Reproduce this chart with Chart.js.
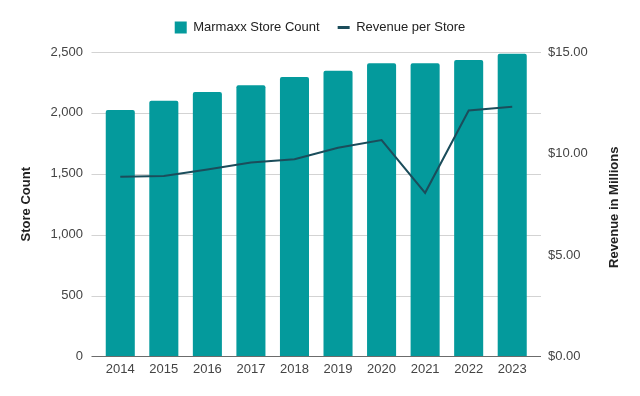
<!DOCTYPE html>
<html><head><meta charset="utf-8">
<script src="https://cdn.jsdelivr.net/npm/chart.js@4/dist/chart.umd.min.js"></script>
<style>html,body{margin:0;padding:0;background:#fff}#wrap{width:640px;height:396px}</style>
</head><body><div id="wrap"><canvas id="c" width="640" height="396"></canvas></div>
<script>
const years = ['2014','2015','2016','2017','2018','2019','2020','2021','2022','2023'];
const storeCount = [2023, 2100, 2171, 2226, 2294, 2347, 2407, 2407, 2434, 2486];
const revenuePerStore = [8.85, 8.89, 9.21, 9.56, 9.72, 10.28, 10.66, 8.06, 12.12, 12.30];
const seriesNames = ['Marmaxx Store Count', 'Revenue per Store'];
const leftTitle = 'Store Count';
const rightTitle = 'Revenue in Millions';

const BAR_COLOR = '#049a9c';
const LINE_COLOR = '#1b4d5b';
const FONT = '"Liberation Sans", Arial, sans-serif';
const LEGEND_EXTRA = 8;

const gridPlugin = {
  id: 'gridExt',
  beforeDatasetsDraw(chart) {
    const {ctx, chartArea: a, scales: {y}} = chart;
    ctx.save();
    ctx.strokeStyle = '#d3d3d3';
    ctx.lineWidth = 1;
    y.ticks.forEach(t => {
      if (t.value === 0) return;
      const py = Math.round(y.getPixelForValue(t.value)) + 0.5;
      ctx.beginPath(); ctx.moveTo(a.left - 7, py); ctx.lineTo(a.right + 7, py); ctx.stroke();
    });
    ctx.restore();
  },
  afterDatasetsDraw(chart) {
    const {ctx, chartArea: a, scales: {y}} = chart;
    const py = Math.round(y.getPixelForValue(0)) + 0.5;
    ctx.save();
    ctx.strokeStyle = '#6b6b6b';
    ctx.lineWidth = 1;
    ctx.beginPath(); ctx.moveTo(a.left - 7, py); ctx.lineTo(a.right + 7, py); ctx.stroke();
    ctx.restore();
  },
  afterDraw(chart) {
    const {ctx, chartArea: a, scales: {y1}} = chart;
    ctx.save();
    ctx.translate(y1.right - 26, (a.top + a.bottom) / 2 + 3);
    ctx.rotate(-Math.PI / 2);
    ctx.fillStyle = '#222';
    ctx.font = 'bold 13px ' + FONT;
    ctx.textAlign = 'center';
    ctx.textBaseline = 'middle';
    ctx.fillText(rightTitle, 0, 0);
    ctx.restore();
  }
};

const legendFix = {
  id: 'legendFix',
  beforeLayout(chart) {
    const lg = chart.legend;
    if (lg && !lg._patched) {
      const f = lg.fit;
      lg.fit = function () { f.call(this); this.height += LEGEND_EXTRA; };
      lg._patched = true;
    }
  }
};

new Chart(document.getElementById('c'), {
  data: {
    labels: years,
    datasets: [
      {
        type: 'bar', label: seriesNames[0], data: storeCount, yAxisID: 'y',
        backgroundColor: BAR_COLOR, borderRadius: {topLeft: 2, topRight: 2},
        borderSkipped: false, categoryPercentage: 1, barPercentage: 0.667, order: 1
      },
      {
        type: 'line', label: seriesNames[1], data: revenuePerStore, yAxisID: 'y1',
        borderColor: LINE_COLOR, backgroundColor: LINE_COLOR, borderWidth: 2,
        pointRadius: 0, tension: 0, order: 0
      }
    ]
  },
  options: {
    responsive: false, animation: false, devicePixelRatio: 1, events: [],
    layout: {padding: {top: 3, left: 0, right: 0, bottom: 14}},
    plugins: {
      tooltip: {enabled: false},
      legend: {
        position: 'top', align: 'center',
        labels: {
          usePointStyle: true, pointStyleWidth: 12, boxHeight: 12, padding: 18,
          color: '#222', font: {family: FONT, size: 13},
          generateLabels: (chart) => chart.data.datasets.map((ds, i) => ({
            text: ds.label, fillStyle: i === 0 ? BAR_COLOR : LINE_COLOR,
            strokeStyle: i === 0 ? BAR_COLOR : LINE_COLOR,
            lineWidth: i === 0 ? 0 : 3, pointStyle: i === 0 ? 'rect' : 'line',
            hidden: false, datasetIndex: i, fontColor: '#222'
          }))
        }
      }
    },
    scales: {
      x: {
        grid: {display: false, drawTicks: false}, border: {display: false},
        ticks: {color: '#444', font: {family: FONT, size: 13}, padding: 5}
      },
      y: {
        position: 'left', min: 0, max: 2500,
        grid: {display: false, drawTicks: false}, border: {display: false},
        ticks: {stepSize: 500, color: '#444', font: {family: FONT, size: 13}, padding: 15.5,
          callback: v => v.toLocaleString('en-US')},
        title: {display: true, text: leftTitle, color: '#222',
          font: {family: FONT, size: 13, weight: 'bold'}, padding: {top: 19, bottom: 0}},
        afterFit: s => { s.width = 98.5; }
      },
      y1: {
        position: 'right', min: 0, max: 15,
        grid: {display: false, drawTicks: false}, border: {display: false},
        ticks: {stepSize: 5, color: '#444', font: {family: FONT, size: 13}, padding: 14,
          callback: v => '$' + Number(v).toFixed(2)},
        title: {display: false},
        afterFit: s => { s.width = 106; }
      }
    }
  },
  plugins: [gridPlugin, legendFix]
});
</script></body></html>
